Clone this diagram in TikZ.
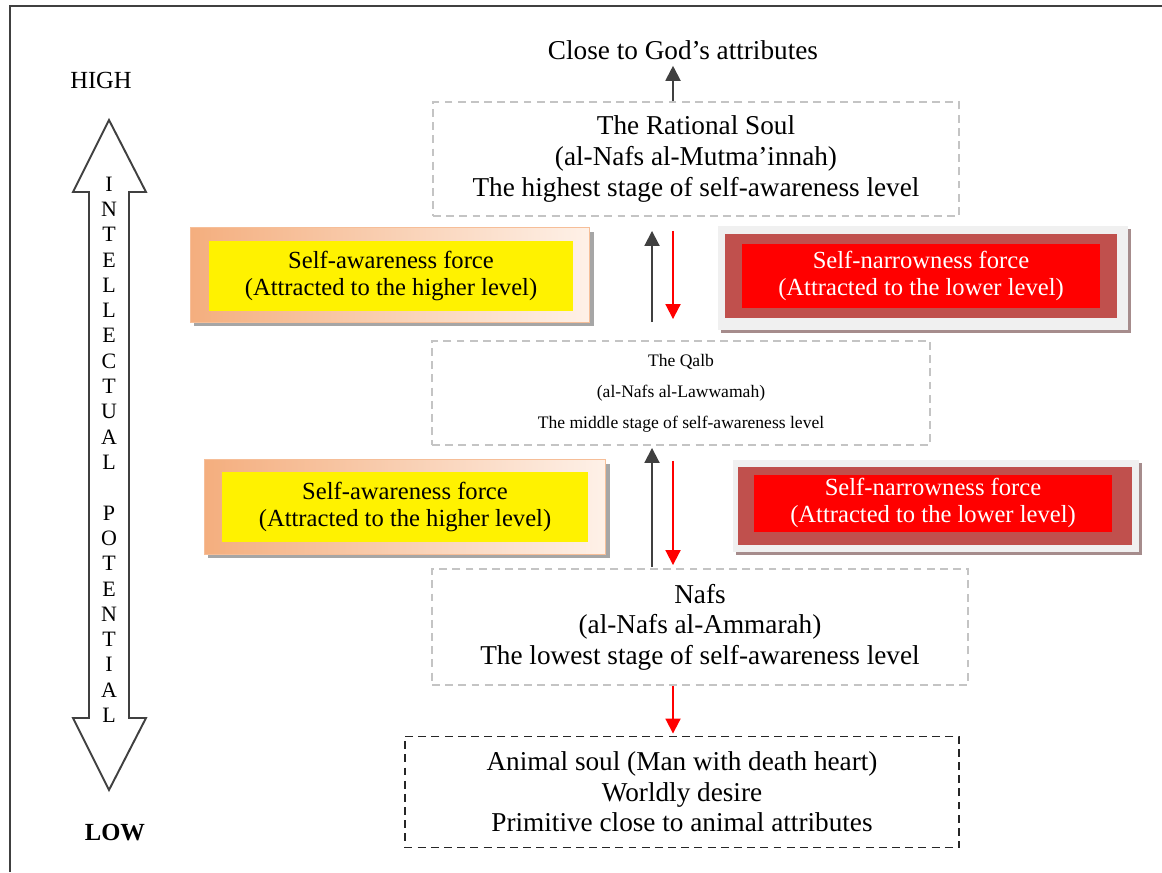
\documentclass[tikz,border=0pt]{standalone}
\usepackage{fontspec}
\setmainfont{Liberation Serif}
\usetikzlibrary{arrows.meta,positioning,calc,shadows}

\definecolor{framegray}{HTML}{404040}
\definecolor{dashgray}{HTML}{C4C4C4}
\definecolor{peach}{HTML}{F4AE7E}
\definecolor{peachlight}{HTML}{FEF1E8}
\definecolor{darkred}{HTML}{C0504D}
\definecolor{lightgray}{HTML}{F0F0F0}
\definecolor{shadowgray}{HTML}{A6A6A6}
\definecolor{shadowred}{HTML}{A68C8C}

\begin{document}
\begin{tikzpicture}[x=0.02cm, y=-0.02cm,
  stagebox/.style={rectangle, draw=dashgray, line width=1.1pt,
    dash pattern=on 4.5pt off 3pt, align=center, inner sep=0pt,
    font=\fontsize{15.5}{17.4}\selectfont},
  awareouter/.style={rectangle, draw=peach!80, line width=0.6pt,
    left color=peach, right color=peachlight, inner sep=0pt,
    drop shadow={shadow xshift=0.08cm, shadow yshift=-0.08cm,
      fill=shadowgray, opacity=1}},
  awareinner/.style={rectangle, fill=yellow, inner sep=0pt, align=center,
    font=\fontsize{14}{15.4}\selectfont},
  narrowouter/.style={rectangle, fill=lightgray, inner sep=0pt,
    drop shadow={shadow xshift=0.06cm, shadow yshift=-0.06cm,
      fill=shadowred, opacity=1}},
  narrowmid/.style={rectangle, fill=darkred, inner sep=0pt},
  narrowinner/.style={rectangle, fill=red, text=white, inner sep=0pt,
    align=center, font=\fontsize{14}{15.4}\selectfont},
  uparrow/.style={-{Triangle[length=0.3cm, width=0.3cm]}, line width=1.1pt, draw=black!75},
  downarrow/.style={-{Triangle[length=0.3cm, width=0.3cm]}, line width=1.1pt, draw=red},
  scalelabel/.style={font=\fontsize{14}{16}\selectfont},
  vletter/.style={font=\fontsize{12.5}{14}\selectfont, inner sep=0pt},
]
\useasboundingbox (0,0) rectangle (1162,872);

%% -- outer frame (only top and left visible) --
\draw[framegray, line width=1.6pt] (10,872) -- (10,6) -- (1162,6);

%% -- intellectual potential scale --
\node[scalelabel] (high) at (101,80)  {HIGH};
\node[scalelabel] (low)  at (115,833) {\textbf{LOW}};
\draw[framegray, line width=1.1pt, fill=white]
  (109,120) -- (146,192) -- (129,192) -- (129,718) -- (146,718) -- (109,790)
  -- (73,718) -- (89,718) -- (89,192) -- (73,192) -- cycle;
\foreach \ch [count=\i from 0] in {I,N,T,E,L,L,E,C,T,U,A,L,{},P,O,T,E,N,T,I,A,L}
  \node[vletter] (v\i) at (109,{184+25.3*\i}) {\ch};

%% -- stages --
\node[font=\fontsize{15.5}{17.4}\selectfont] (close) at (683,50) {Close to God’s attributes};
\node[stagebox, minimum width=10.52cm, minimum height=2.28cm] (rational) at (696,159)
  {The Rational Soul\\(al-Nafs al-Mutma’innah)\\The highest stage of self-awareness level};
\node[stagebox, minimum width=9.96cm, minimum height=2.08cm,
  font=\fontsize{10}{17.6}\selectfont] (qalb) at (681,393)
  {The Qalb\\(al-Nafs al-Lawwamah)\\The middle stage of self-awareness level};
\node[stagebox, minimum width=10.72cm, minimum height=2.32cm] (nafs) at (700,627)
  {Nafs\\(al-Nafs al-Ammarah)\\The lowest stage of self-awareness level};
\node[stagebox, draw=black!85, minimum width=11.1cm, minimum height=2.22cm] (animal) at (682,792)
  {Animal soul (Man with death heart)\\Worldly desire\\Primitive close to animal attributes};

%% -- forces between Rational Soul and Qalb --
\node[awareouter, minimum width=8cm, minimum height=1.9cm] (awareA) at (390,275) {};
\node[awareinner, minimum width=7.28cm, minimum height=1.4cm] (awareAtxt) at (391,276)
  {Self-awareness force\\(Attracted to the higher level)};
\node[narrowouter, minimum width=8.2cm, minimum height=2.08cm] (narrowA) at (923,278) {};
\node[narrowmid, minimum width=7.86cm, minimum height=1.7cm] (narrowAmid) at (921,276) {};
\node[narrowinner, minimum width=7.18cm, minimum height=1.3cm] (narrowAtxt) at (921,276)
  {Self-narrowness force\\(Attracted to the lower level)};

%% -- forces between Qalb and Nafs --
\node[awareouter, minimum width=8.04cm, minimum height=1.9cm] (awareB) at (405,507) {};
\node[awareinner, minimum width=7.32cm, minimum height=1.4cm] (awareBtxt) at (405,507)
  {Self-awareness force\\(Attracted to the higher level)};
\node[narrowouter, minimum width=8.12cm, minimum height=1.84cm] (narrowB) at (936,506) {};
\node[narrowmid, minimum width=7.88cm, minimum height=1.56cm] (narrowBmid) at (935,506) {};
\node[narrowinner, minimum width=7.18cm, minimum height=1.14cm] (narrowBtxt) at (933,503)
  {Self-narrowness force\\(Attracted to the lower level)};

%% -- arrows --
\coordinate (upx)   at (652,0);
\coordinate (downx) at (673,0);
\draw[uparrow] (rational.north -| downx) -- (close.south -| downx);
\draw[uparrow, shorten <=0.36cm, shorten >=0.28cm] (qalb.north -| upx) -- (rational.south -| upx);
\draw[downarrow, shorten <=0.28cm, shorten >=0.42cm] (rational.south -| downx) -- (qalb.north -| downx);
\draw[uparrow, shorten <=0.02cm, shorten >=0.04cm] (nafs.north -| upx) -- (qalb.south -| upx);
\draw[downarrow, shorten <=0.3cm, shorten >=0.06cm] (qalb.south -| downx) -- (nafs.north -| downx);
\draw[downarrow, shorten >=0.04cm] (nafs.south -| downx) -- (animal.north -| downx);
\end{tikzpicture}
\end{document}
